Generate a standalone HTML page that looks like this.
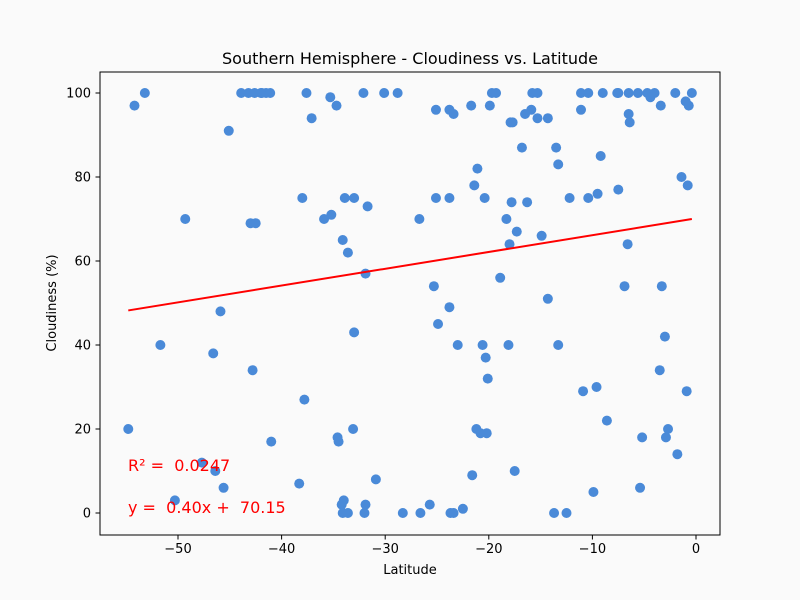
<!DOCTYPE html>
<html><head><meta charset="utf-8"><style>
body{margin:0;background:#fafafa;font-family:"DejaVu Sans","Liberation Sans",sans-serif;}
svg{display:block}
text{white-space:pre}
</style></head><body>
<svg id="chart" width="800" height="600" xmlns="http://www.w3.org/2000/svg" font-family="DejaVu Sans, Liberation Sans, sans-serif">
<rect width="800" height="600" fill="#fafafa"/>
<text x="410" y="64" text-anchor="middle" font-size="16" fill="#000">Southern Hemisphere - Cloudiness vs. Latitude</text>
<g id="marks"></g>
<rect x="100" y="72" width="620" height="463" fill="none" stroke="#000" stroke-width="1"/>
<g id="axes"></g>
<text x="410" y="574" text-anchor="middle" font-size="13">Latitude</text>
<text transform="translate(56,303) rotate(-90)" text-anchor="middle" font-size="13">Cloudiness (%)</text>
<text x="128" y="471" font-size="16" fill="red" xml:space="preserve">R² =  0.0247</text>
<text x="128" y="513" font-size="16" fill="red" xml:space="preserve">y =  0.40x +  70.15</text>
</svg>
<script>
const lats=[-54.2,-53.2,-43.9,-43.2,-42.6,-42.0,-41.9,-41.5,-41.1,-45.1,-37.6,-37.1,-35.3,-34.7,-32.1,-30.1,-28.8,-49.3,-43.0,-42.5,-38.0,-33.9,-33.0,-31.7,-35.9,-35.2,-34.1,-33.6,-31.9,
-25.1,-23.8,-23.4,-21.7,-19.9,-19.7,-19.3,-17.9,-17.7,-16.5,-15.9,-15.8,-15.3,-15.3,-14.3,-11.1,-10.4,-11.1,-9.0,-7.6,-7.5,-6.5,-6.5,-6.4,-5.6,-4.7,-4.4,-4.0,-3.4,-2.0,-1.0,-0.7,-0.4,
-16.8,-13.5,-13.3,-9.2,-21.1,-21.4,-25.1,-23.8,-20.4,-17.8,-16.3,-12.2,-10.4,-9.5,-7.5,-1.4,-0.8,-26.7,-18.3,-17.3,-14.9,-18.0,-6.6,-25.3,-18.9,-6.9,-3.3,-14.3,
-45.9,-33.0,-51.7,-46.6,-42.8,-37.8,-54.8,-33.1,-41.0,-34.6,-34.5,-47.7,-46.4,-45.6,-38.3,-30.9,-50.3,-34.0,-34.2,-34.1,-33.6,-31.9,-32.0,-28.3,
-23.8,-24.9,-23.0,-20.6,-18.1,-13.3,-20.3,-20.1,-3.0,-3.5,-10.9,-9.6,-0.9,-8.6,-5.2,-2.7,-2.9,-1.8,-21.2,-20.8,-20.2,-21.6,-17.5,-9.9,-5.4,-26.6,-25.7,-23.7,-23.4,-22.5,-13.7,-12.5];
const clouds=[97,100,100,100,100,100,100,100,100,91,100,94,99,97,100,100,100,70,69,69,75,75,75,73,70,71,65,62,57,
96,96,95,97,97,100,100,93,93,95,96,100,100,94,94,100,100,96,100,100,100,100,95,93,100,100,99,100,97,100,98,97,100,
87,87,83,85,82,78,75,75,75,74,74,75,75,76,77,80,78,70,70,67,66,64,64,54,56,54,54,51,
48,43,40,38,34,27,20,20,17,18,17,12,10,6,7,8,3,3,2,0,0,2,0,0,
49,45,40,40,40,40,37,32,42,34,29,30,29,22,18,20,18,14,20,19,19,9,10,5,6,0,2,0,0,1,0,0];
const slope=[0.40];
const intercept=[70.15];
const xTicks=[-50,-40,-30,-20,-10,0];
const yTicks=[0,20,40,60,80,100];
const X=v=>696+v*10.36;
const Y=v=>513-v*4.2;
const NS="http://www.w3.org/2000/svg";
const marks=document.getElementById('marks');
for(let i=0;i<lats.length;i++){
  const c=document.createElementNS(NS,'circle');
  c.setAttribute('cx',X(lats[i]));c.setAttribute('cy',Y(clouds[i]));c.setAttribute('r',5);
  c.setAttribute('fill','#4a8ad8');
  
  
  marks.appendChild(c);
}
const mn=Math.min(...lats),mx=Math.max(...lats);
const ln=document.createElementNS(NS,'line');
ln.setAttribute('x1',X(mn));ln.setAttribute('y1',Y(slope[0]*mn+intercept[0]));
ln.setAttribute('x2',X(mx));ln.setAttribute('y2',Y(slope[0]*mx+intercept[0]));
ln.setAttribute('stroke','red');ln.setAttribute('stroke-width',2);


marks.appendChild(ln);
const axes=document.getElementById('axes');
xTicks.forEach(t=>{
  const l=document.createElementNS(NS,'line');
  l.setAttribute('x1',X(t));l.setAttribute('x2',X(t));l.setAttribute('y1',535);l.setAttribute('y2',539.5);l.setAttribute('stroke','#000');
  
  
  axes.appendChild(l);
  const tx=document.createElementNS(NS,'text');
  tx.setAttribute('x',X(t));tx.setAttribute('y',553);tx.setAttribute('text-anchor','middle');tx.setAttribute('font-size','13');
  tx.textContent=t<0?'\u2212'+Math.abs(t):t;
  
  
  axes.appendChild(tx);
});
yTicks.forEach(t=>{
  const l=document.createElementNS(NS,'line');
  l.setAttribute('x1',95.5);l.setAttribute('x2',100);l.setAttribute('y1',Y(t));l.setAttribute('y2',Y(t));l.setAttribute('stroke','#000');
  
  
  axes.appendChild(l);
  const tx=document.createElementNS(NS,'text');
  tx.setAttribute('x',91);tx.setAttribute('y',Y(t)+4.5);tx.setAttribute('text-anchor','end');tx.setAttribute('font-size','13');
  tx.textContent=t;
  
  
  axes.appendChild(tx);
});
</script>
</body></html>
